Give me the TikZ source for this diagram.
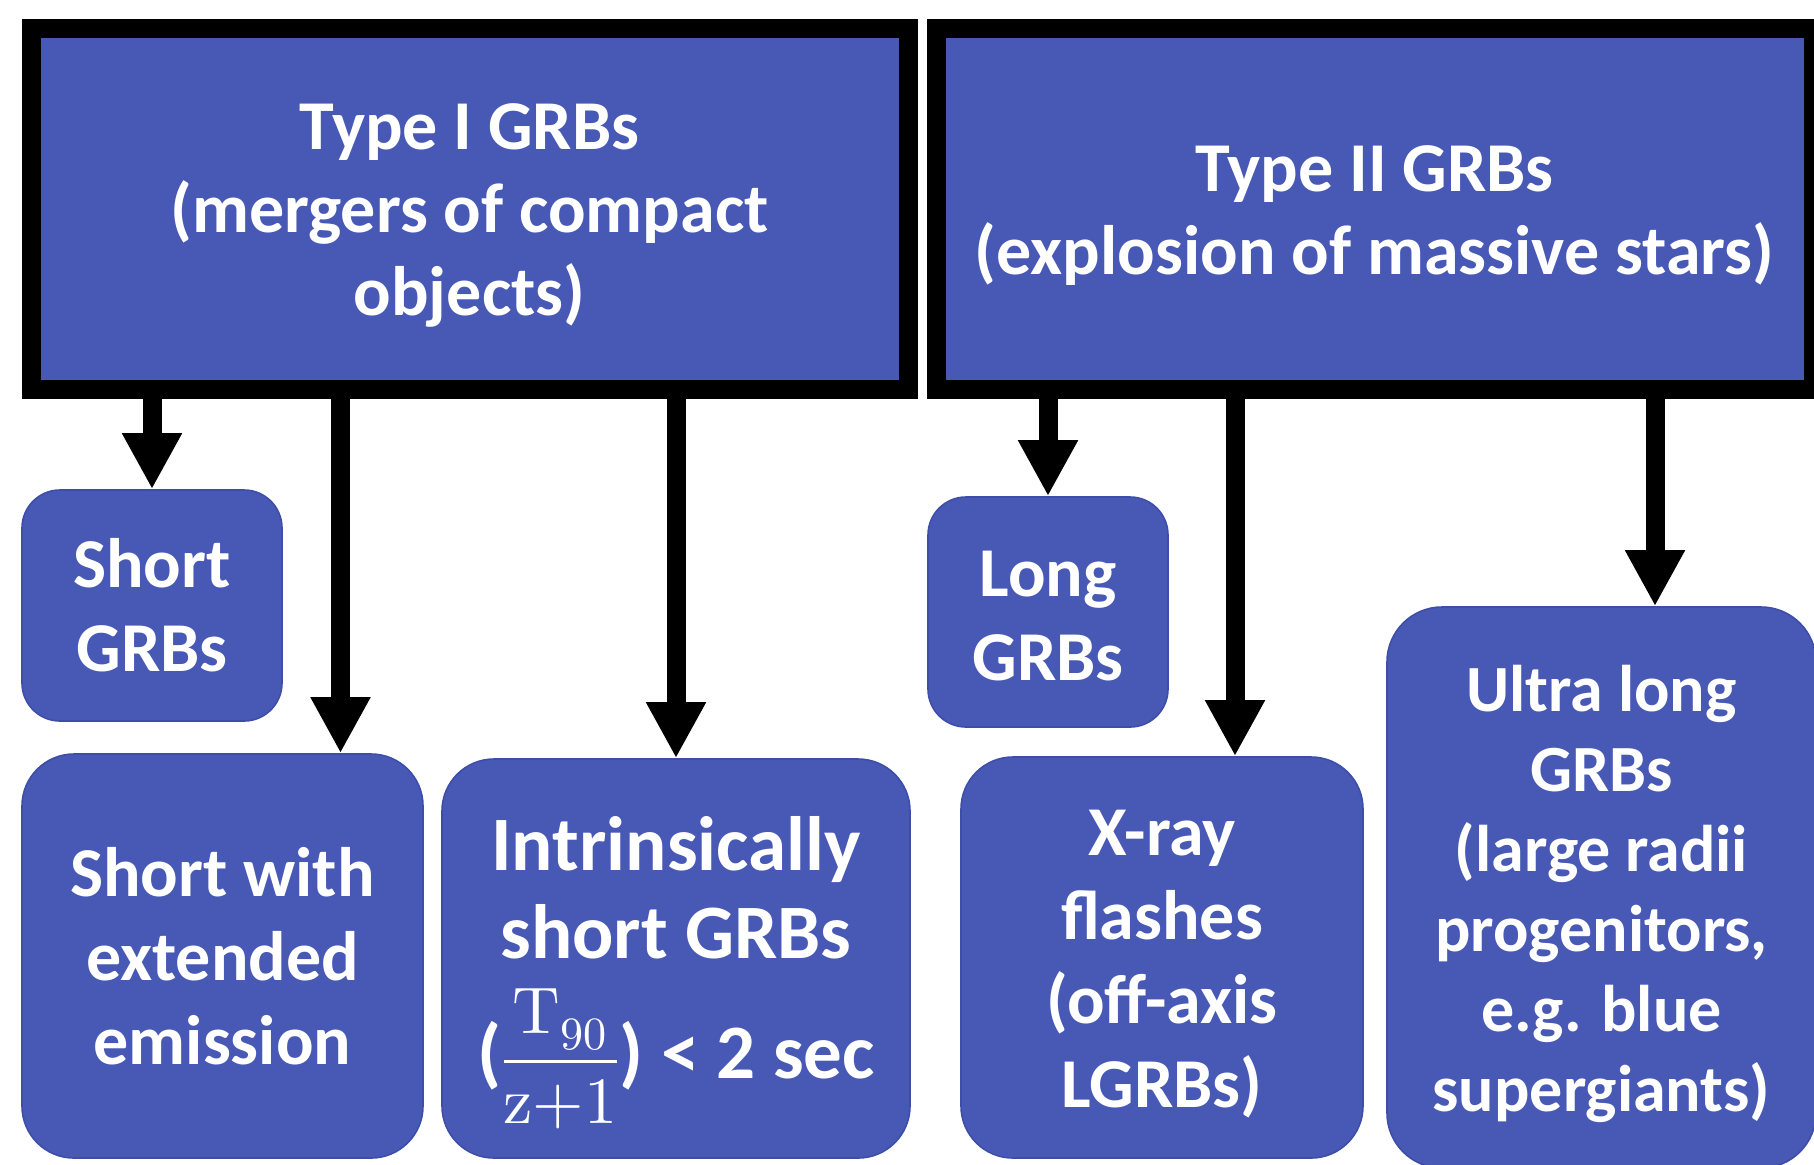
\documentclass[tikz,border=0pt]{standalone}
\usepackage{fontspec}
\setmainfont{Carlito}
\usepackage{unicode-math}
\setmathfont{Latin Modern Math}
\usetikzlibrary{arrows.meta}
\definecolor{BoxClr}{RGB}{71,89,181}
\definecolor{EdgeClr}{RGB}{62,78,168}
\newcommand\capstrut[1][32pt]{\rule{0pt}{#1}}
\newcommand\tailstrut{\rule[-8pt]{0pt}{8pt}}

\begin{document}
\begin{tikzpicture}[x=0.5pt,y=-0.5pt,
  typebox/.style={rectangle,draw=black,line width=9.5pt,fill=BoxClr,inner sep=0pt,
    minimum width=438.5pt,minimum height=180.5pt,text=white,align=center,
    font=\fontsize{35}{41.5}\selectfont\bfseries},
  classbox/.style={rectangle,rounded corners=#1,draw=EdgeClr,line width=0.8pt,
    fill=BoxClr,inner sep=0pt,text=white,align=center,
    font=\fontsize{35}{42}\selectfont\bfseries},
  flow/.style={line width=9.5pt,-{Triangle[width=28pt,length=28pt]}}]

\useasboundingbox (0,0) rectangle (1814,1164);
\clip (0,0) rectangle (1814,1164);

\node[typebox] (typeI) at (469.5,208.5) {\capstrut Type I GRBs\\(mergers of compact\\objects)\tailstrut};
\node[typebox] (typeII) at (1374.5,208.5) {\capstrut Type II GRBs\\(explosion of massive stars)\tailstrut};

\node[classbox=19pt,minimum width=130pt,minimum height=115.5pt] (short) at (152,605.5) {\capstrut Short\\GRBs\tailstrut};
\node[classbox=26pt,minimum width=200.5pt,minimum height=202pt] (ext) at (222.5,956) {\capstrut Short with\\extended\\emission\tailstrut};
\node[classbox=26pt,minimum width=234pt,minimum height=199.5pt,
  font=\fontsize{38.5}{44}\selectfont\bfseries] (intr) at (676,958.5)
  {\capstrut[41pt]Intrinsically\\short GRBs\\[14pt]({\fontsize{33}{36}\selectfont$\displaystyle\frac{\symup{T}_{90}}{\symup{z}{+}1}$}) < 2 sec};

\node[classbox=19pt,minimum width=120pt,minimum height=115pt] (long) at (1048,612) {\capstrut[34pt]Long\\GRBs\tailstrut};
\node[classbox=26pt,minimum width=201pt,minimum height=200.5pt] (xray) at (1162,957.5) {\capstrut X-ray\\flashes\\(off-axis\\LGRBs)\tailstrut};
\node[classbox=27.5pt,minimum width=214.5pt,minimum height=280.5pt,
  font=\fontsize{33}{40}\selectfont\bfseries] (ultra) at (1601.5,887.5)
  {\capstrut Ultra long\\GRBs\\(large radii\\progenitors,\\e.g. blue\\supergiants)\tailstrut};

\coordinate (extIn) at ([xshift=59pt]ext.north);
\coordinate (xrayIn) at ([xshift=36.5pt]xray.north);
\coordinate (ultraIn) at ([xshift=26.75pt]ultra.north);

\draw[flow] (typeI.south -| short.north) -- (short.north);
\draw[flow] (typeI.south -| extIn) -- (extIn);
\draw[flow] (typeI.south -| intr.north) -- (intr.north);
\draw[flow] (typeII.south -| long.north) -- (long.north);
\draw[flow] (typeII.south -| xrayIn) -- (xrayIn);
\draw[flow] (typeII.south -| ultraIn) -- (ultraIn);

\end{tikzpicture}
\end{document}
